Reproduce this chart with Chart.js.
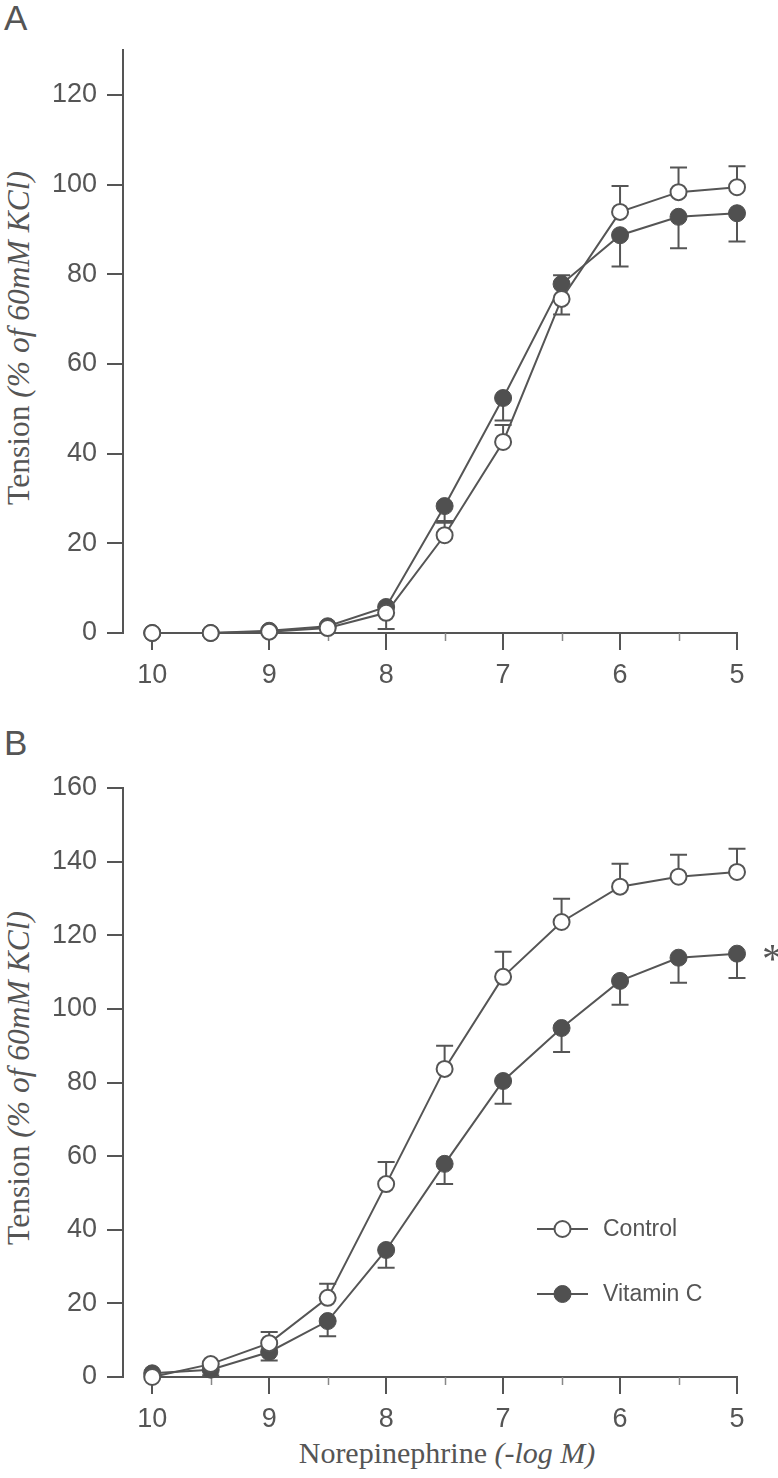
<!DOCTYPE html>
<html>
<head>
<meta charset="utf-8">
<script src="https://cdn.jsdelivr.net/npm/chart.js@4.4.0/dist/chart.umd.min.js"></script>
<style>
  body { margin: 0; background: #fff; width: 778px; height: 1478px; position: relative; overflow: hidden; }
  canvas { position: absolute; left: 0; }
  .panel { position: absolute; font-family: "Liberation Sans", Arial, sans-serif; color: #555; font-size: 35px; line-height: 1; }
  .title { position: absolute; font-family: "Liberation Serif", "Times New Roman", serif; color: #555; font-size: 30px; line-height: 1; white-space: nowrap; }
  .ytitle { font-size: 31.5px; transform: translate(-50%, -50%) rotate(-90deg); }
</style>
</head>
<body>
<div class="panel" style="left:4px; top:0px">A</div>
<div class="panel" style="left:4px; top:725px">B</div>
<div class="title ytitle" style="left:19px; top:338px">Tension <i>(% of 60mM KCl)</i></div>
<div class="title ytitle" style="left:19px; top:1078px">Tension <i>(% of 60mM KCl)</i></div>
<div class="title" style="left:447px; top:1438px; transform: translateX(-50%)">Norepinephrine <i>(-log M)</i></div>

<canvas id="chartA" width="778" height="700" style="top:0"></canvas>
<canvas id="chartB" width="778" height="778" style="top:700px"></canvas>

<script>
// Norepinephrine dose, -log M (axis runs 10 -> 5)
const doses = [10, 9.5, 9, 8.5, 8, 7.5, 7, 6.5, 6, 5.5, 5];
const xTicks = [10, 9.5, 9, 8.5, 8, 7.5, 7, 6.5, 6, 5.5, 5];

// Panel A
const controlA    = [0, 0, 0.3, 1.1, 4.5, 21.8, 42.6, 74.5, 93.9, 98.3, 99.4];
const controlErrA = [0, 0, 0, 0, -3.6, 2.8, 3.8, -3.5, 5.8, 5.5, 4.7];
const vitaminA    = [0, 0, 0.5, 1.5, 5.8, 28.3, 52.4, 77.8, 88.7, 92.8, 93.6];
const vitaminErrA = [0, 0, 0, 0, 0, -3.3, -5.0, 2.0, -7.0, -7.0, -6.3];
const yTicksA = [0, 20, 40, 60, 80, 100, 120];

// Panel B
const controlB    = [0, 3.5, 9.2, 21.5, 52.4, 83.7, 108.7, 123.6, 133.2, 135.9, 137.2];
const controlErrB = [0, 0, 3.0, 3.8, 6.0, 6.3, 6.8, 6.3, 6.2, 6.0, 6.3];
const vitaminB    = [1, 2, 6.8, 15.2, 34.5, 57.9, 80.4, 94.8, 107.6, 113.9, 115.0];
const vitaminErrB = [0, -1.5, -2.3, -4.1, -4.8, -5.5, -6.2, -6.5, -6.5, -6.8, -6.6];
const yTicksB = [0, 20, 40, 60, 80, 100, 120, 140, 160];

const INK = '#555555';
const FILL = '#505050';
const SANS = '"Liberation Sans", Arial, sans-serif';

function series(label, values, errs, filled) {
  return {
    label: label,
    data: doses.map((d, i) => ({ x: d, y: values[i] })),
    err: errs,
    borderColor: INK,
    borderWidth: 2,
    pointRadius: filled ? 8.5 : 8,
    pointBorderWidth: filled ? 1 : 2,
    pointBorderColor: filled ? FILL : INK,
    pointBackgroundColor: filled ? FILL : '#ffffff',
    pointHoverRadius: 8,
    showLine: true,
    tension: 0,
    clip: false
  };
}

// axis lines, minor ticks, error bars, legend and the asterisk
const figurePlugin = {
  id: 'figure',
  beforeDatasetsDraw(chart, args, opts) {
    const { ctx, chartArea } = chart;
    const x = chart.scales.x, y = chart.scales.y;
    const y0 = y.getPixelForValue(0);
    ctx.save();
    ctx.strokeStyle = INK;
    ctx.lineWidth = 2;
    ctx.beginPath();
    ctx.moveTo(chartArea.left, y0 + 1);
    ctx.lineTo(chartArea.left, y.getPixelForValue(opts.yTop) - 1);
    ctx.moveTo(x.getPixelForValue(10), y0);
    ctx.lineTo(x.getPixelForValue(5) + 1, y0);
    ctx.stroke();

    // short minor ticks at half steps
    ctx.lineWidth = 1.5;
    ctx.strokeStyle = '#888';
    ctx.beginPath();
    xTicks.filter(v => !Number.isInteger(v)).forEach(v => {
      const px = Math.round(x.getPixelForValue(v)) + 0.5;
      ctx.moveTo(px, y0);
      ctx.lineTo(px, y0 + 8);
    });
    ctx.stroke();

    // error bars (sign gives direction)
    ctx.strokeStyle = INK;
    ctx.lineWidth = 2;
    chart.data.datasets.forEach(ds => {
      ds.err.forEach((e, i) => {
        if (!e) return;
        const px = x.getPixelForValue(ds.data[i].x);
        const py = y.getPixelForValue(ds.data[i].y);
        const pe = y.getPixelForValue(ds.data[i].y + e);
        ctx.beginPath();
        ctx.moveTo(px, py);
        ctx.lineTo(px, pe);
        ctx.moveTo(px - 8.5, pe);
        ctx.lineTo(px + 8.5, pe);
        ctx.stroke();
      });
    });
    ctx.restore();
  },
  afterDatasetsDraw(chart, args, opts) {
    const { ctx } = chart;
    const x = chart.scales.x, y = chart.scales.y;
    ctx.save();
    if (opts.legend) {
      chart.data.datasets.forEach((ds, i) => {
        const ly = opts.legend.top + i * opts.legend.gap;
        const lx = opts.legend.left;
        ctx.strokeStyle = INK;
        ctx.lineWidth = 2;
        ctx.beginPath();
        ctx.moveTo(lx, ly);
        ctx.lineTo(lx + 51, ly);
        ctx.stroke();
        ctx.beginPath();
        ctx.arc(lx + 25.5, ly, ds.pointRadius, 0, Math.PI * 2);
        ctx.fillStyle = ds.pointBackgroundColor;
        ctx.fill();
        ctx.lineWidth = ds.pointBorderWidth;
        ctx.strokeStyle = ds.pointBorderColor;
        ctx.stroke();
        ctx.fillStyle = INK;
        ctx.font = '23px ' + SANS;
        ctx.textBaseline = 'middle';
        ctx.textAlign = 'left';
        ctx.fillText(ds.label, lx + 66, ly + 1);
      });
    }
    if (opts.star) {
      const ds = chart.data.datasets[opts.star.dataset];
      const last = ds.data[ds.data.length - 1];
      ctx.fillStyle = INK;
      ctx.font = '42px "Liberation Serif", "Times New Roman", serif';
      ctx.textAlign = 'left';
      ctx.textBaseline = 'alphabetic';
      ctx.fillText('*', x.getPixelForValue(last.x) + 25, y.getPixelForValue(last.y) + 19);
    }
    ctx.restore();
  }
};

function makeChart(id, datasets, yMax, yTicks, padTop, xHeight, extra) {
  return new Chart(document.getElementById(id), {
    type: 'scatter',
    data: { datasets: datasets },
    options: {
      responsive: false,
      animation: false,
      devicePixelRatio: 1,
      layout: { padding: { left: 0, right: 41, top: padTop, bottom: 0 } },
      plugins: {
        legend: { display: false },
        tooltip: { enabled: false },
        figure: Object.assign({ yTop: yMax }, extra)
      },
      scales: {
        x: {
          type: 'linear',
          reverse: true,
          min: 5,
          max: 10.25,
          border: { display: false },
          grid: {
            drawOnChartArea: false,
            drawTicks: true,
            tickLength: 17,
            lineWidth: 2,
            color: c => (c.tick && Number.isInteger(c.tick.value)) ? INK : 'rgba(0,0,0,0)'
          },
          ticks: {
            autoSkip: false,
            maxRotation: 0,
            padding: 9,
            color: INK,
            font: { family: SANS, size: 27 },
            callback: v => Number.isInteger(v) ? String(v) : ''
          },
          afterBuildTicks: s => { s.ticks = xTicks.map(v => ({ value: v })); },
          afterFit: s => { s.height = xHeight; s.paddingLeft = 0; s.paddingRight = 0; }
        },
        y: {
          min: 0,
          max: yMax,
          border: { display: false },
          grid: {
            drawOnChartArea: false,
            drawTicks: true,
            tickLength: 16,
            lineWidth: 2,
            color: INK
          },
          ticks: {
            padding: 10,
            color: INK,
            font: { family: SANS, size: 27 }
          },
          afterBuildTicks: s => { s.ticks = yTicks.map(v => ({ value: v })); },
          afterFit: s => { s.width = 123; s.paddingTop = 0; s.paddingBottom = 0; }
        }
      }
    },
    plugins: [figurePlugin]
  });
}

makeChart('chartA', [
  series('Control', controlA, controlErrA, false),
  series('Vitamin C', vitaminA, vitaminErrA, true)
], 130, yTicksA, 50, 67, {});

makeChart('chartB', [
  series('Control', controlB, controlErrB, false),
  series('Vitamin C', vitaminB, vitaminErrB, true)
], 160, yTicksB, 88, 101, {
  legend: { left: 537, top: 529, gap: 65 },
  star: { dataset: 1 }
});
</script>
</body>
</html>
